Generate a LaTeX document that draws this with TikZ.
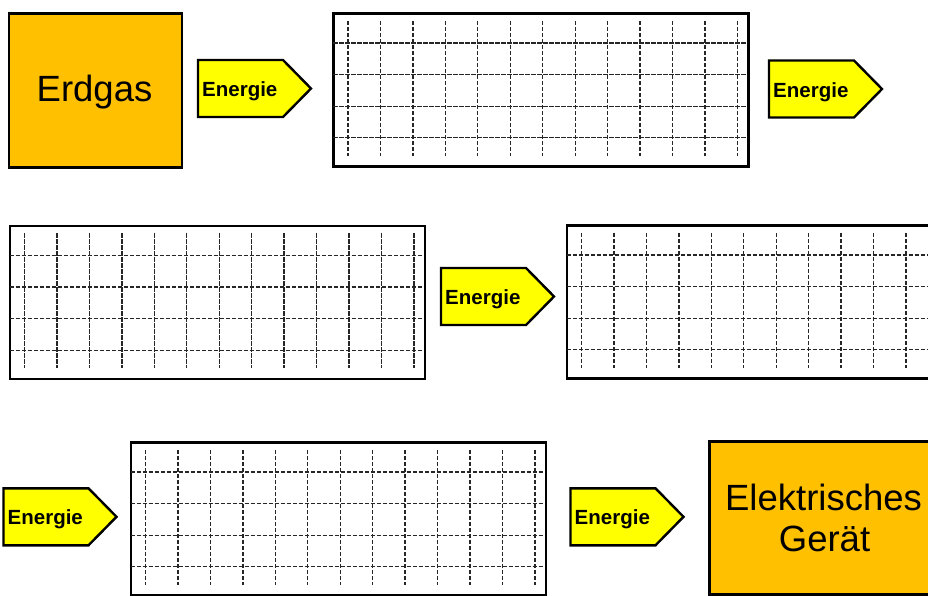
\documentclass[tikz,border=0pt]{standalone}
\usepackage{fontspec}
\setmainfont{Liberation Sans}
\definecolor{boxorange}{HTML}{FFC000}
\definecolor{arrowyellow}{HTML}{FFFF00}
\tikzset{
  bigbox/.style={draw=black, line width=2.6pt, fill=boxorange, rectangle, inner sep=0pt},
  bigtext/.style={inner sep=0pt, font=\fontsize{36.5}{42}\selectfont},
  gridframe/.style={draw=black, line width=2.6pt, rectangle, inner sep=0pt,
                    minimum width=415pt, minimum height=153pt},
  gridline/.style={draw=black!85, line width=1.3pt, dash pattern=on 4.5pt off 1.5pt},
  arrowshape/.style={draw=black, line width=2.4pt, fill=arrowyellow, line join=miter},
  energytext/.style={inner sep=0pt, font=\fontsize{20.5}{24}\selectfont\bfseries}
}
\newcommand\energyarrow[3]{%
  \draw[arrowshape] (#2,#3) -- ++(85,0) -- ++(28,28.5) -- ++(-28,28.5) -- ++(-85,0) -- cycle;
  \node[energytext, anchor=base west] (#1) at ({#2+4},{#3+36.6}) {Energie};
}
\newcommand\gridbox[3]{%
  \node[gridframe, anchor=north west] (#1) at ({#2+0.5},{#3+0.5}) {};
  \foreach \k in {0,...,12}
    \draw[gridline] ({#2+16.5+32.45*\k},{#3+9.3}) -- ++(0,134.7);
  \foreach \k in {0,...,3}
    \draw[gridline] ({#2+1.5},{#3+31.5+31.6*\k}) -- ++(414,0);
}
\begin{document}
\begin{tikzpicture}[x=1pt, y=-1pt]
\useasboundingbox (0,0) rectangle (928,595);
\clip (0,0) rectangle (928,595);

% source box
\node[bigbox, minimum width=173pt, minimum height=154pt, anchor=north west] (erdgas) at (7.5,12) {};
\node[bigtext, anchor=base] (erdgastext) at (94.5,101.7) {Erdgas};

% row 1
\energyarrow{e1}{198}{60}
\gridbox{g1}{331.5}{11.5}
\energyarrow{e2}{769}{60.5}

% row 2
\gridbox{g2}{8}{224}
\energyarrow{e3}{441}{268}
\gridbox{g3}{565}{223.5}

% row 3
\energyarrow{e4}{3.5}{488.3}
\gridbox{g4}{129}{440.5}
\energyarrow{e5}{570.5}{488.3}

% target box
\node[bigbox, minimum width=232pt, minimum height=153pt, anchor=north west] (geraet) at (708,440) {};
\node[bigtext, anchor=base] (geraettext1) at (823.5,510) {Elektrisches};
\node[bigtext, anchor=base] (geraettext2) at (824.5,551.7) {Gerät};
\end{tikzpicture}
\end{document}
